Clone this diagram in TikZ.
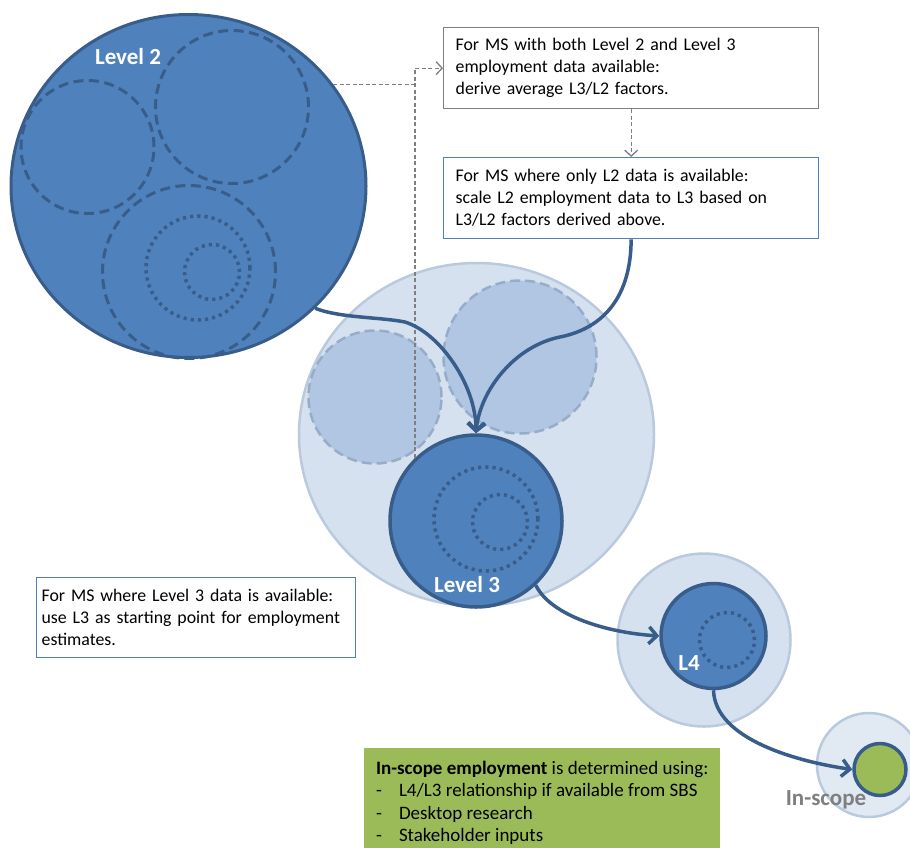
\documentclass[tikz,border=0pt]{standalone}
\usepackage{fontspec}
\setmainfont{Carlito}
\usetikzlibrary{shapes.geometric,arrows.meta}
\definecolor{dkblue}{RGB}{56,93,138}
\definecolor{midblue}{RGB}{79,129,189}
\definecolor{palefill}{RGB}{214,225,239}
\definecolor{paleedge}{RGB}{185,202,222}
\definecolor{pale2fill}{RGB}{176,198,226}
\definecolor{pale2edge}{RGB}{150,173,202}
\definecolor{palest}{RGB}{225,233,243}
\definecolor{grn}{RGB}{155,187,89}
\definecolor{gry}{RGB}{127,127,127}
\newcommand\oneline[1]{\mbox{#1}}
\begin{document}
\begin{tikzpicture}[x=1pt,y=-1pt,
  bigell/.style={ellipse, inner sep=0pt, minimum width=355pt, minimum height=343pt},
  ring/.style={circle, inner sep=0pt},
  solidlevel/.style={ring, fill=midblue, draw=dkblue, line width=3.5pt},
  palering/.style={ring, draw=paleedge, line width=2.5pt},
  ldash/.style={ring, draw=dkblue, line width=3pt, dash pattern=on 10pt off 5.5pt},
  ldot/.style={ring, draw=dkblue, line width=3.5pt, dash pattern=on 3.2pt off 4pt},
  pdash/.style={ring, fill=pale2fill, draw=pale2edge, line width=2.5pt, dash pattern=on 10pt off 5pt},
  lbl/.style={text=white, font=\fontsize{23}{26}\bfseries\selectfont, inner sep=0pt},
  bodyfont/.style={font=\fontsize{17.8}{22}\selectfont},
  infobox/.style={bodyfont, rectangle, anchor=north west, inner ysep=0pt, align=left, fill=white, line width=1.3pt},
  gdash/.style={draw=gry, line width=1.3pt, dash pattern=on 4pt off 2.5pt},
  gtip/.style={-{Straight Barb[length=6pt,width=13pt]}},
  arr/.style={draw=dkblue, line width=3.5pt, -{Straight Barb[length=8pt,width=17pt]}}
]
\clip (0,0) rectangle (910,847);
% Level 2 group
\node[bigell, fill=midblue, draw=dkblue, line width=3pt] (L2) at (188.5,186) {};
\node[ldash, minimum size=133pt] (L2a) at (87.5,147) {};
\node[ldash, minimum size=153pt] (L2b) at (232,107) {};
\node[ldash, minimum size=173pt] (L2c) at (189,272) {};
\node[ldot, minimum size=104pt] (L2d) at (198,268) {};
\node[ldot, minimum size=55pt] (L2e) at (212,272) {};
\node[lbl] (L2t) at (128,57) {Level 2};
% Level 3 group
\node[bigell, fill=palefill, draw=paleedge, line width=2.5pt] (G3) at (476.5,434.5) {};
\node[pdash, minimum size=133pt] (G3a) at (375,397) {};
\node[pdash, minimum size=153pt] (G3b) at (520,357) {};
\node[solidlevel, minimum size=172pt] (L3) at (476,521) {};
\node[ldot, minimum size=104pt] (L3d) at (486,519) {};
\node[ldot, minimum size=55pt] (L3e) at (500,522) {};
\node[lbl] (L3t) at (467,585) {Level 3};
% L4 group
\node[palering, fill=palefill, minimum size=173pt] (G4) at (704,640) {};
\node[solidlevel, minimum size=105pt] (L4) at (713.5,636) {};
\node[ldot, minimum size=55pt] (L4d) at (727,640) {};
\node[lbl] (L4t) at (689,663) {L4};
% In-scope group
\node[palering, fill=palest, minimum size=104pt] (G5) at (869,765) {};
\node[ring, fill=grn, draw=dkblue, line width=3.5pt, minimum size=52pt] (IS) at (880,769.5) {};
\node[lbl, text=gry] (ISt) at (826,800) {In-scope};
% text boxes
\node[infobox, draw=gry, inner xsep=12pt, text width=351pt, minimum height=81pt] (box1) at (443,27)
  {\oneline{For MS with both Level 2 and Level 3}\\\oneline{employment data available:}\\\oneline{derive average L3/L2 factors.}};
\node[infobox, draw=midblue, inner xsep=12pt, text width=351pt, minimum height=81pt] (box2) at (443,157)
  {\oneline{For MS where only L2 data is available:}\\\oneline{scale L2 employment data to L3 based on}\\\oneline{L3/L2 factors derived above.}};
\node[infobox, draw=midblue, inner xsep=5pt, text width=309pt, minimum height=80pt] (box3) at (36,577)
  {\oneline{For MS where Level 3 data is available:}\\\oneline{use L3 as starting point for employment}\\\oneline{estimates.}};
\node[font=\fontsize{19}{22.4}\selectfont, rectangle, anchor=north west, fill=grn, align=left, inner sep=0pt, minimum width=356pt, minimum height=109pt] (box4) at (364,748)
  {\textbf{In-scope employment} is determined using:\\\makebox[23pt][l]{-}L4/L3 relationship if available from SBS\\\makebox[23pt][l]{-}Desktop research\\\makebox[23pt][l]{-}Stakeholder inputs};
% gray dashed connectors
\draw[gdash] (L2.35) -- (L2.35 -| L3.134);
\draw[gdash, gtip] (L3.134) |- (box1.west);
\draw[gdash, gtip] (box1.south) -- (box2.north);
% main arrows
\draw[arr] (L2.-44) .. controls (340,318) and (380,317) .. (405,322)
  .. controls (440,333) and (476,385) .. (L3.north);
\draw[arr] (box2.south) .. controls (631,295) and (605,328) .. (560,337)
  .. controls (515,346) and (480,390) .. (L3.north);
\draw[arr] (L3.-47) .. controls (549,613) and (600,632) .. (L4.west);
\draw[arr] (L4.south) .. controls (715,740) and (800,762) .. (IS.west);
\end{tikzpicture}
\end{document}
